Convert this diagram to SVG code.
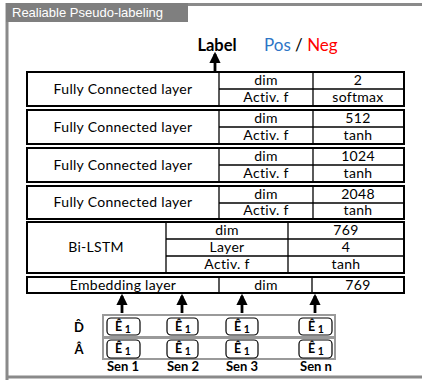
<svg xmlns="http://www.w3.org/2000/svg" width="422" height="380" viewBox="0 0 422 380">
  <defs>
    <marker id="arr" viewBox="0 0 10 10" refX="8" refY="5" markerWidth="4" markerHeight="4" orient="auto">
      <path d="M0,0 L10,5 L0,10 z" fill="#000"/>
    </marker>
  </defs>
  <style>
    .frame { fill: none; stroke: #8a8a8a; stroke-width: 3; }
    .box { fill: #fff; stroke: #000; stroke-width: 2; }
    .ln { stroke: #000; stroke-width: 1.3; }
    .t { font-family: Lato, "Open Sans", sans-serif; font-size: 14px; letter-spacing: 0.3px; fill: #000; text-anchor: middle; }
    .b { font-family: Lato, "Open Sans", sans-serif; font-weight: bold; fill: #000; text-anchor: middle; }
    .grp { fill: #fff; stroke: #9a9a9a; stroke-width: 2; }
    .tok { fill: #fff; stroke: #000; stroke-width: 1.2; }
    .conn { stroke: #000; stroke-width: 2.8; fill: none; marker-end: url(#arr); }
  </style>

  <!-- outer panel with title tab -->
  <g id="panel">
    <path class="frame" d="M7,380 V4.5 H422 M7,377 H422"/>
    <rect x="6" y="3" width="182" height="19" fill="#7f7f7f"/>
    <text x="12" y="17" font-family="Liberation Sans, Arial, sans-serif" font-size="13" fill="#fff">Realiable Pseudo-labeling</text>
  </g>

  <!-- output label -->
  <g id="label">
    <text x="217" y="51" class="b" font-size="16.5">Label</text>
    <text x="264" y="51" font-family="Lato, Open Sans, sans-serif" font-size="17"><tspan fill="#2e75c6">Pos</tspan><tspan fill="#000"> / </tspan><tspan fill="#ff0000">Neg</tspan></text>
  </g>

  <!-- fully connected layers -->
  <g id="fc1">
    <rect class="box" x="27" y="72" width="377" height="34"/>
    <line class="ln" x1="219" y1="72" x2="219" y2="106"/>
    <line class="ln" x1="313" y1="72" x2="313" y2="106"/>
    <line class="ln" x1="219" y1="89" x2="404" y2="89"/>
    <text class="t" x="123" y="94">Fully Connected layer</text>
    <text class="t" x="266" y="85">dim</text>
    <text class="t" x="358" y="85">2</text>
    <text class="t" x="266" y="102">Activ. f</text>
    <text class="t" x="358" y="102">softmax</text>
  </g>
  <g id="fc2">
    <rect class="box" x="27" y="110" width="377" height="34"/>
    <line class="ln" x1="219" y1="110" x2="219" y2="144"/>
    <line class="ln" x1="313" y1="110" x2="313" y2="144"/>
    <line class="ln" x1="219" y1="127" x2="404" y2="127"/>
    <text class="t" x="123" y="132">Fully Connected layer</text>
    <text class="t" x="266" y="123">dim</text>
    <text class="t" x="358" y="123">512</text>
    <text class="t" x="266" y="140">Activ. f</text>
    <text class="t" x="358" y="140">tanh</text>
  </g>
  <g id="fc3">
    <rect class="box" x="27" y="148" width="377" height="34"/>
    <line class="ln" x1="219" y1="148" x2="219" y2="182"/>
    <line class="ln" x1="313" y1="148" x2="313" y2="182"/>
    <line class="ln" x1="219" y1="165" x2="404" y2="165"/>
    <text class="t" x="123" y="170">Fully Connected layer</text>
    <text class="t" x="266" y="161">dim</text>
    <text class="t" x="358" y="161">1024</text>
    <text class="t" x="266" y="178">Activ. f</text>
    <text class="t" x="358" y="178">tanh</text>
  </g>
  <g id="fc4">
    <rect class="box" x="27" y="186" width="377" height="33"/>
    <line class="ln" x1="219" y1="186" x2="219" y2="219"/>
    <line class="ln" x1="313" y1="186" x2="313" y2="219"/>
    <line class="ln" x1="219" y1="203" x2="404" y2="203"/>
    <text class="t" x="123" y="207">Fully Connected layer</text>
    <text class="t" x="266" y="199">dim</text>
    <text class="t" x="358" y="199">2048</text>
    <text class="t" x="266" y="215">Activ. f</text>
    <text class="t" x="358" y="215">tanh</text>
  </g>

  <!-- recurrent encoder -->
  <g id="bilstm">
    <rect class="box" x="27" y="222" width="377" height="51"/>
    <line class="ln" x1="166" y1="222" x2="166" y2="273"/>
    <line class="ln" x1="288" y1="222" x2="288" y2="273"/>
    <line class="ln" x1="166" y1="239" x2="404" y2="239"/>
    <line class="ln" x1="166" y1="256" x2="404" y2="256"/>
    <text class="t" x="96" y="252">Bi-LSTM</text>
    <text class="t" x="227" y="235">dim</text>
    <text class="t" x="346" y="235">769</text>
    <text class="t" x="227" y="252">Layer</text>
    <text class="t" x="346" y="252">4</text>
    <text class="t" x="227" y="269">Activ. f</text>
    <text class="t" x="346" y="269">tanh</text>
  </g>

  <!-- embedding -->
  <g id="embedding">
    <rect class="box" x="27" y="277" width="377" height="16"/>
    <line class="ln" x1="219" y1="277" x2="219" y2="293"/>
    <line class="ln" x1="312" y1="277" x2="312" y2="293"/>
    <text class="t" x="123" y="290">Embedding layer</text>
    <text class="t" x="266" y="290">dim</text>
    <text class="t" x="358" y="290">769</text>
  </g>

  <!-- sentence inputs -->
  <g id="inputs">
    <rect class="grp" x="103" y="315" width="232" height="22"/>
    <rect class="grp" x="103" y="338" width="232" height="21"/>
    <text class="b" x="79" y="332" font-size="13">D̂</text>
    <text class="b" x="79" y="354" font-size="13">Â</text>
    <rect class="tok" x="107" y="318" width="33" height="17" rx="4"/>
    <rect class="tok" x="167" y="318" width="31" height="17" rx="4"/>
    <rect class="tok" x="226" y="318" width="32" height="17" rx="4"/>
    <rect class="tok" x="299" y="318" width="33" height="17" rx="4"/>
    <rect class="tok" x="107" y="340" width="33" height="18" rx="4"/>
    <rect class="tok" x="167" y="340" width="31" height="18" rx="4"/>
    <rect class="tok" x="226" y="340" width="32" height="18" rx="4"/>
    <rect class="tok" x="299" y="340" width="33" height="18" rx="4"/>
    <g class="b" font-size="12.5">
      <text x="123" y="331">Ê<tspan font-size="10.5" dy="2"> 1</tspan></text>
      <text x="183" y="331">Ê<tspan font-size="10.5" dy="2"> 1</tspan></text>
      <text x="242" y="331">Ê<tspan font-size="10.5" dy="2"> 1</tspan></text>
      <text x="316" y="331">Ê<tspan font-size="10.5" dy="2"> 1</tspan></text>
      <text x="123" y="353">Ê<tspan font-size="10.5" dy="2"> 1</tspan></text>
      <text x="183" y="353">Ê<tspan font-size="10.5" dy="2"> 1</tspan></text>
      <text x="242" y="353">Ê<tspan font-size="10.5" dy="2"> 1</tspan></text>
      <text x="316" y="353">Ê<tspan font-size="10.5" dy="2"> 1</tspan></text>
    </g>
    <g class="b" font-size="13">
      <text x="123" y="371">Sen 1</text>
      <text x="183" y="371">Sen 2</text>
      <text x="242" y="371">Sen 3</text>
      <text x="316" y="371">Sen n</text>
    </g>
  </g>

  <!-- connectors -->
  <g id="connectors">
    <line class="conn" x1="215" y1="71" x2="215" y2="54"/>
    <line class="conn" x1="122" y1="313" x2="122" y2="296"/>
    <line class="conn" x1="182" y1="313" x2="182" y2="296"/>
    <line class="conn" x1="242" y1="313" x2="242" y2="296"/>
    <line class="conn" x1="315" y1="313" x2="315" y2="296"/>
  </g>
</svg>
